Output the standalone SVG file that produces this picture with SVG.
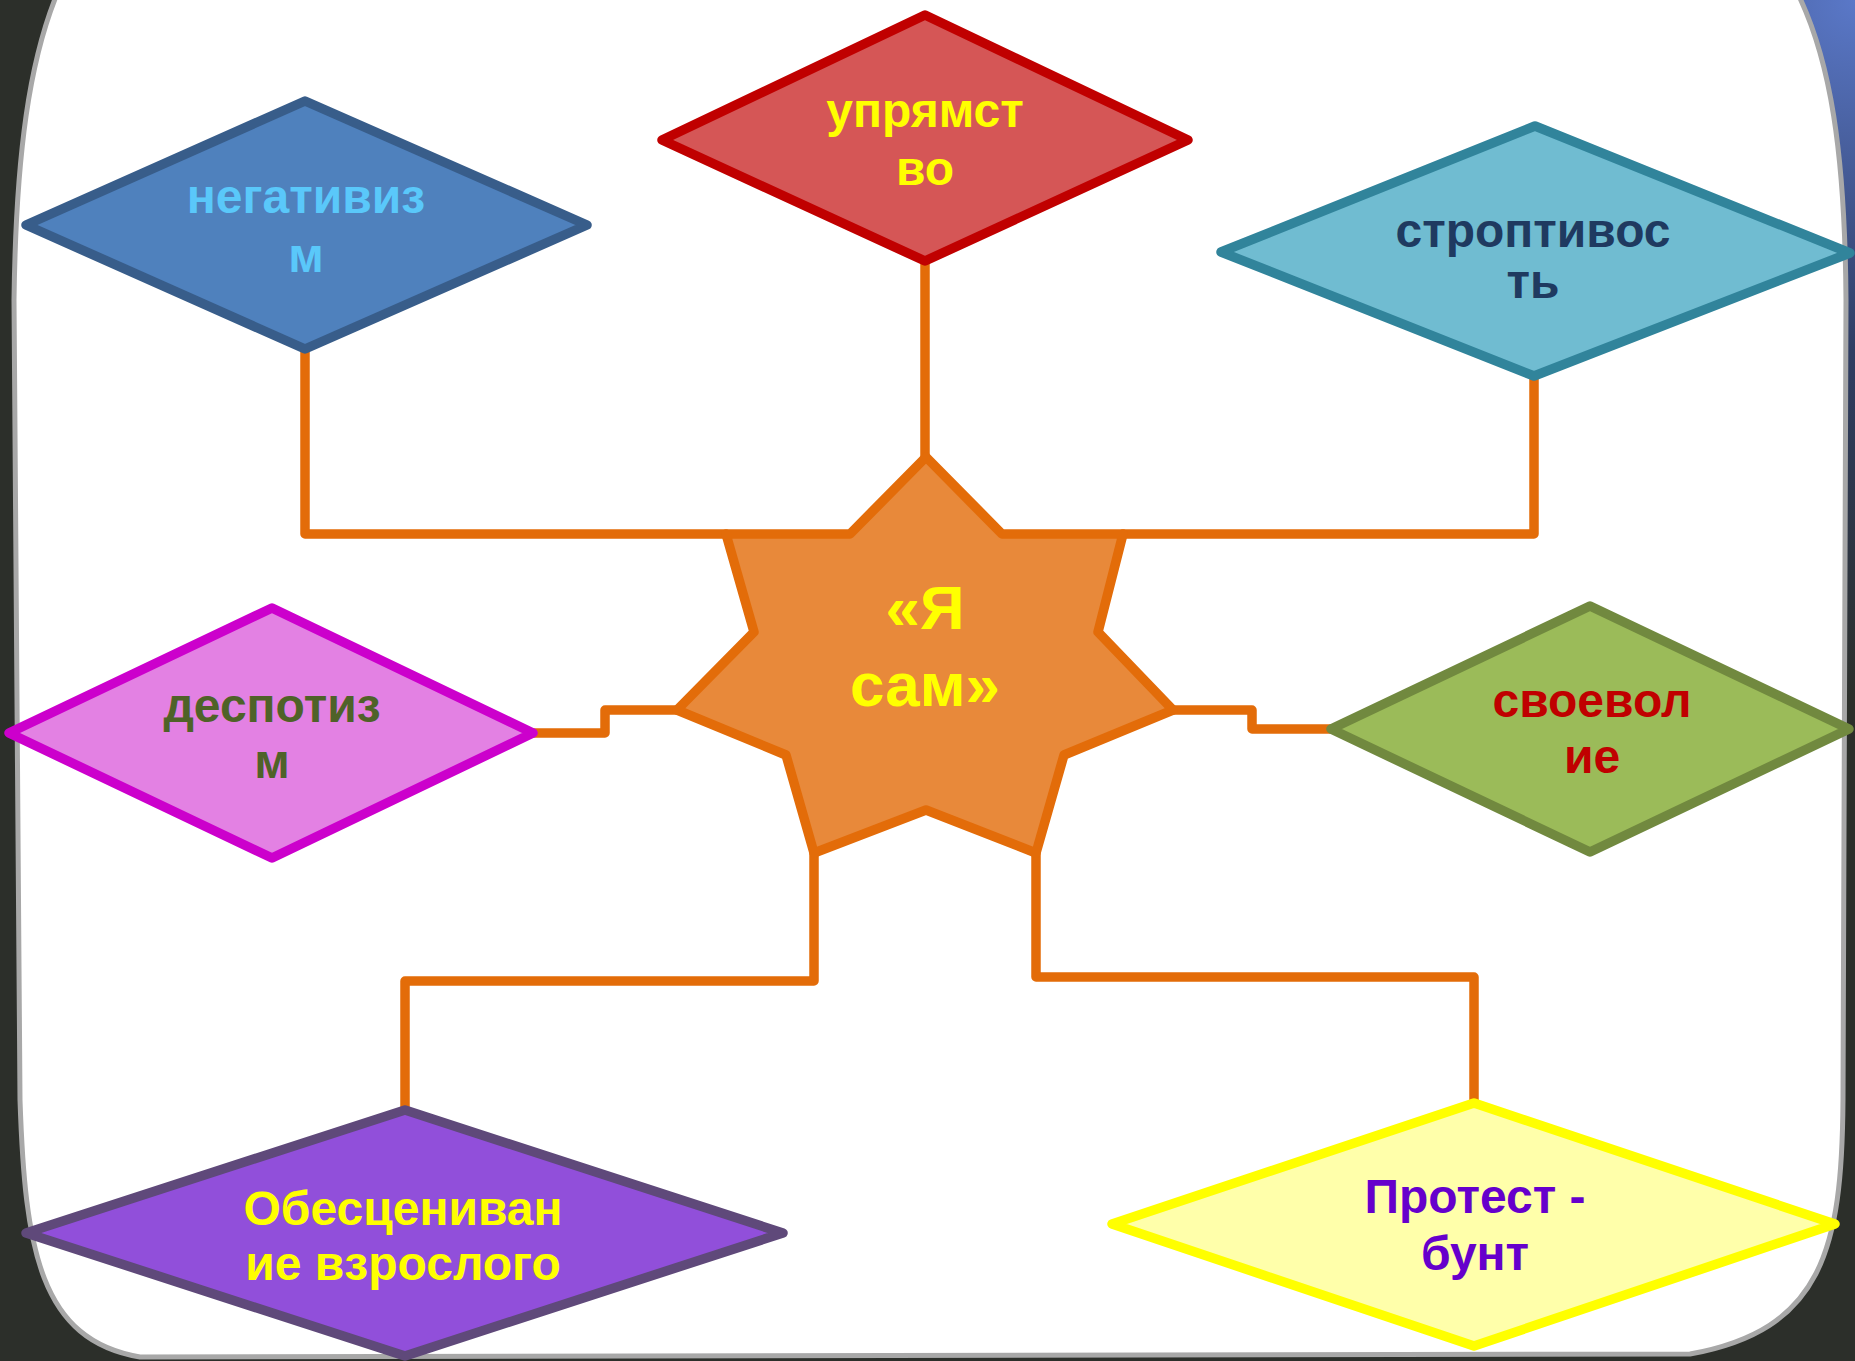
<svg xmlns="http://www.w3.org/2000/svg" width="1855" height="1361" viewBox="0 0 1855 1361">
<defs>
<radialGradient id="bg" cx="1855" cy="0" r="700" gradientUnits="userSpaceOnUse">
<stop offset="0" stop-color="#5a78c8"/>
<stop offset="0.5" stop-color="#2f3d63"/>
<stop offset="1" stop-color="#2c2f2a"/>
</radialGradient>
<style>
.d{stroke-width:9.5;stroke-linejoin:round}
.c{fill:none;stroke:#e36c09;stroke-width:9.5;stroke-linejoin:round;stroke-linecap:round}
.t{font-family:"Liberation Sans",Arial,sans-serif;font-weight:bold;font-size:48px;text-anchor:middle}
.s{font-size:62px}
</style>
</defs>
<rect x="0" y="0" width="1855" height="1361" fill="#2e312c"/>
<rect x="0" y="0" width="1855" height="1361" fill="url(#bg)"/>
<path d="M57,-6 H1798 C1830,60 1845,150 1846,300 L1843,1100 C1842,1250 1822,1330 1690,1354 L140,1357 C40,1340 25,1250 20,1100 L14,300 C16,150 30,60 57,-6 Z" fill="#ffffff" stroke="#a8a8a8" stroke-width="5"/>
<g id="connectors">
<path class="c" d="M305,349 V534 H726"/>
<path class="c" d="M925,261 V457"/>
<path class="c" d="M1534,376 V534 H1123"/>
<path class="c" d="M533,733 H605 V710 H677"/>
<path class="c" d="M1173,710 H1252 V729 H1331"/>
<path class="c" d="M814,853 V981 H405 V1110"/>
<path class="c" d="M1036,853 V977 H1474 V1103"/>
</g>
<g id="center">
<polygon class="d" points="926,457 1002,534 1123,534 1098,632 1173,710 1064,755 1036,853 926,810 814,853 786,755 677,710 754,632 726,534 850,534" fill="#e8893a" stroke="#e36c09"/>
<text class="t s" fill="#ffff00"><tspan x="925" y="629">«Я</tspan><tspan x="925" y="706">сам»</tspan></text>
</g>
<g id="negativizm">
<polygon class="d" points="26,225 305,101 587,225 305,349" fill="#4f81bd" stroke="#385d8a"/>
<text class="t" fill="#5ac8fa"><tspan x="306" y="213">негативиз</tspan><tspan x="306" y="272">м</tspan></text>
</g>
<g id="upryamstvo">
<polygon class="d" points="662,140 925,15 1188,140 925,261" fill="#d55656" stroke="#c00000"/>
<text class="t" fill="#ffff00"><tspan x="925" y="127">упрямст</tspan><tspan x="925" y="185">во</tspan></text>
</g>
<g id="stroptivost">
<polygon class="d" points="1221,252 1535,126 1850,253 1534,376" fill="#70bcd1" stroke="#31849b"/>
<text class="t" fill="#1f3a60"><tspan x="1533" y="247">строптивос</tspan><tspan x="1533" y="298">ть</tspan></text>
</g>
<g id="despotizm">
<polygon class="d" points="9,733 272,608 533,733 272,858" fill="#e381e3" stroke="#cc00cc"/>
<text class="t" fill="#4f6228"><tspan x="272" y="722">деспотиз</tspan><tspan x="272" y="778">м</tspan></text>
</g>
<g id="svoevolie">
<polygon class="d" points="1331,729 1590,606 1849,729 1590,852" fill="#9bbb59" stroke="#71893f"/>
<text class="t" fill="#c00000"><tspan x="1592" y="717">своевол</tspan><tspan x="1592" y="773">ие</tspan></text>
</g>
<g id="obescenivanie">
<polygon class="d" points="26,1233 405,1110 783,1233 405,1356" fill="#914fda" stroke="#5f497a"/>
<text class="t" fill="#ffff00"><tspan x="403" y="1225">Обесцениван</tspan><tspan x="403" y="1280">ие взрослого</tspan></text>
</g>
<g id="protest">
<polygon class="d" points="1112,1224 1474,1103 1835,1224 1474,1346" fill="#ffffaa" stroke="#ffff00"/>
<text class="t" fill="#6600cc"><tspan x="1475" y="1213">Протест -</tspan><tspan x="1475" y="1270">бунт</tspan></text>
</g>
</svg>
